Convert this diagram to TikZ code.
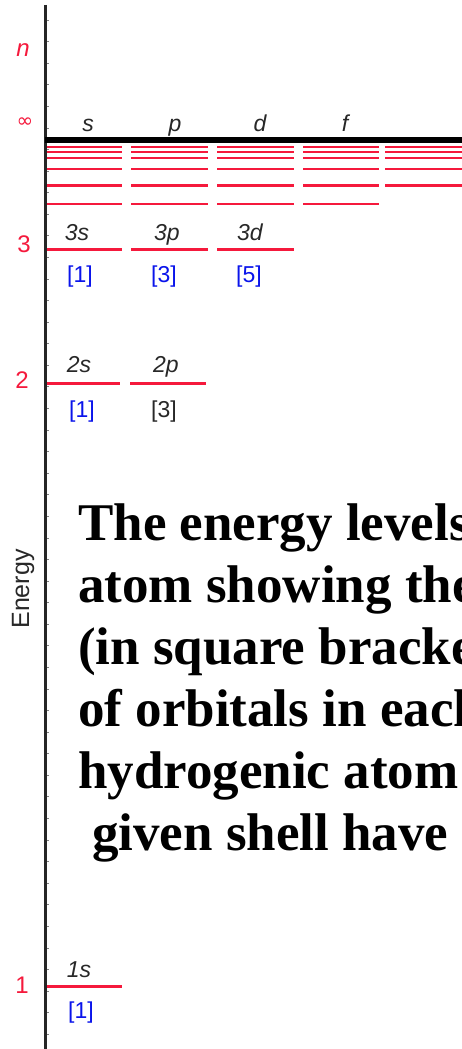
\documentclass[tikz,border=0pt]{standalone}
\usepackage{fontspec}
\setmainfont{Liberation Serif}
\setsansfont{Liberation Sans}
\newfontfamily\djv{DejaVu Sans}
\definecolor{lvred}{RGB}{245,25,60}
\definecolor{lvblue}{RGB}{10,20,235}
\definecolor{lvgray}{RGB}{40,40,40}
\tikzset{
  lvl/.style={draw=lvred,line width=2.4pt},
  orb/.style={font=\sffamily\itshape\fontsize{23}{23}\selectfont,text=lvgray,inner sep=0pt,anchor=base},
  cnt/.style={font=\sffamily\fontsize{23}{23}\selectfont,text=lvblue,inner sep=0pt,anchor=base},
  nlab/.style={font=\sffamily\fontsize{24}{24}\selectfont,text=lvred,inner sep=0pt},
  big/.style={font=\bfseries\fontsize{53}{53}\selectfont,inner sep=0pt,anchor=base west},
}
\begin{document}
\begin{tikzpicture}[x=1pt,y=-1pt]
\useasboundingbox (0,0) rectangle (462,1049);
\clip (0,0) rectangle (462,1049);
\fill[white] (0,0) rectangle (462,1049);
% axis
\draw[black!85,line width=3pt] (45,5) -- (45,1049);
\foreach \k in {0,...,48} \draw[gray,line width=0.8pt] (46.5,{20+21.58*\k}) -- (49,{20+21.58*\k});
% continuum lines
\foreach \yy in {147,152,158,169,185.5} {
  \foreach \xa/\xb in {47/122,131/208,217/294,303/379,385/462} \draw[lvl] (\xa,\yy) -- (\xb,\yy);
}
\foreach \xa/\xb in {47/122,131/208,217/294,303/379} \draw[lvl] (\xa,204) -- (\xb,204);
\draw[black,line width=5.5pt] (45,140) -- (462,140);
% n = 3
\foreach \xa/\xb in {47/122,131/208,217/294} \draw[lvl] (\xa,249.5) -- (\xb,249.5);
% n = 2
\foreach \xa/\xb in {47/120,130/206} \draw[lvl] (\xa,383.5) -- (\xb,383.5);
% n = 1
\draw[lvl] (47,986.5) -- (122,986.5);
% left labels
\node[nlab,font=\sffamily\itshape\fontsize{24}{24}\selectfont] (ln) at (23,50) {n};
\node[nlab,font=\djv\fontsize{20}{20}\selectfont] (linf) at (25,123) {∞};
\node[nlab] (l3) at (24,244) {3};
\node[nlab] (l2) at (22,380) {2};
\node[nlab] (l1) at (22,985) {1};
\node[font=\sffamily\fontsize{25}{25}\selectfont,text=lvgray,rotate=90,inner sep=0pt] (en) at (23,589) {Energy};
% subshell heads
\node[orb] (hs) at (88,131) {s};
\node[orb] (hp) at (175,131) {p};
\node[orb] (hd) at (260,131) {d};
\node[orb] (hf) at (345,131) {f};
% n=3
\node[orb] (o3s) at (77,240) {3s};
\node[orb] (o3p) at (167,240) {3p};
\node[orb] (o3d) at (250,240) {3d};
\node[cnt] (c3s) at (80,282) {[1]};
\node[cnt] (c3p) at (164,282) {[3]};
\node[cnt] (c3d) at (249,282) {[5]};
% n=2
\node[orb] (o2s) at (79,372) {2s};
\node[orb] (o2p) at (166,372) {2p};
\node[cnt] (c2s) at (82,417) {[1]};
\node[cnt,text=lvgray] (c2p) at (164,417) {[3]};
% n=1
\node[orb] (o1s) at (79,977) {1s};
\node[cnt] (c1s) at (81,1018) {[1]};
% caption
\node[big] (t1) at (78,540) {The energy levels};
\node[big] (t2) at (78,602) {atom showing the};
\node[big] (t3) at (78,664) {(in square brackets};
\node[big] (t4) at (78,726) {of orbitals in each};
\node[big] (t5) at (78,788) {hydrogenic atom};
\node[big] (t6) at (92,850) {given shell have};
\end{tikzpicture}
\end{document}
